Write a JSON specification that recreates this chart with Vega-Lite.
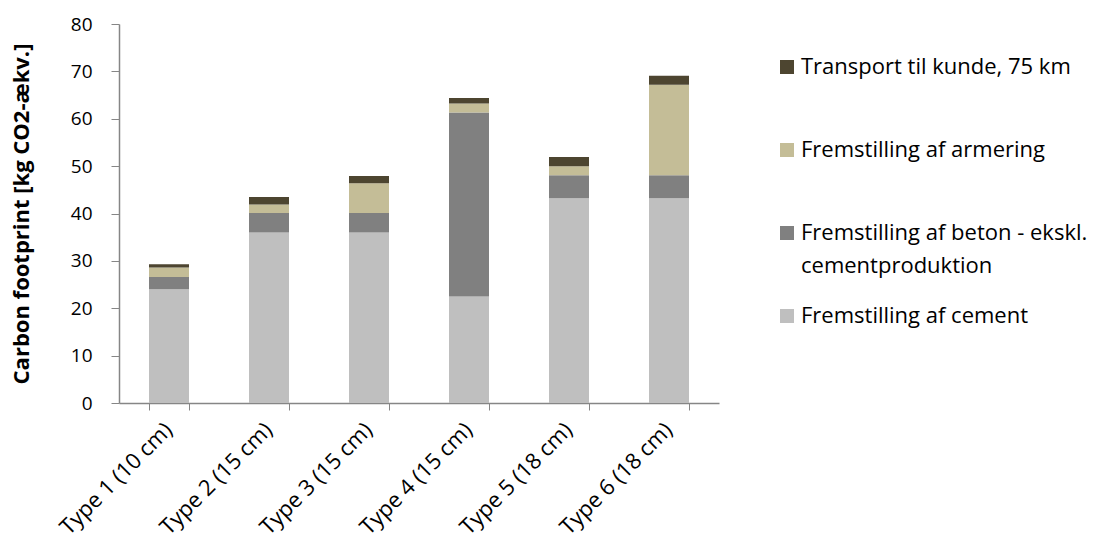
{
  "$schema": "https://vega.github.io/schema/vega-lite/v6.json",
  "autosize": "none",
  "padding": {"left": 119, "top": 24, "right": 384, "bottom": 141},
  "width": 600,
  "height": 379,
  "background": "white",
  "config": {
    "font": "Open Sans",
    "view": {"stroke": null},
    "axis": {"grid": false, "domainColor": "#868686", "tickColor": "#868686", "labelColor": "#000000", "titleColor": "#000000", "labelFont": "Open Sans", "titleFont": "Open Sans"}
  },
  "data": {
    "values": [
      {"type": "Type 1 (10 cm)", "component": "Fremstilling af cement", "value": 24.0, "ord": 1},
      {"type": "Type 1 (10 cm)", "component": "Fremstilling af beton - ekskl. cementproduktion", "value": 2.6, "ord": 2},
      {"type": "Type 1 (10 cm)", "component": "Fremstilling af armering", "value": 2.0, "ord": 3},
      {"type": "Type 1 (10 cm)", "component": "Transport til kunde, 75 km", "value": 0.7, "ord": 4},
      {"type": "Type 2 (15 cm)", "component": "Fremstilling af cement", "value": 36.0, "ord": 1},
      {"type": "Type 2 (15 cm)", "component": "Fremstilling af beton - ekskl. cementproduktion", "value": 4.1, "ord": 2},
      {"type": "Type 2 (15 cm)", "component": "Fremstilling af armering", "value": 1.8, "ord": 3},
      {"type": "Type 2 (15 cm)", "component": "Transport til kunde, 75 km", "value": 1.6, "ord": 4},
      {"type": "Type 3 (15 cm)", "component": "Fremstilling af cement", "value": 36.0, "ord": 1},
      {"type": "Type 3 (15 cm)", "component": "Fremstilling af beton - ekskl. cementproduktion", "value": 4.1, "ord": 2},
      {"type": "Type 3 (15 cm)", "component": "Fremstilling af armering", "value": 6.3, "ord": 3},
      {"type": "Type 3 (15 cm)", "component": "Transport til kunde, 75 km", "value": 1.5, "ord": 4},
      {"type": "Type 4 (15 cm)", "component": "Fremstilling af cement", "value": 22.5, "ord": 1},
      {"type": "Type 4 (15 cm)", "component": "Fremstilling af beton - ekskl. cementproduktion", "value": 38.8, "ord": 2},
      {"type": "Type 4 (15 cm)", "component": "Fremstilling af armering", "value": 1.9, "ord": 3},
      {"type": "Type 4 (15 cm)", "component": "Transport til kunde, 75 km", "value": 1.2, "ord": 4},
      {"type": "Type 5 (18 cm)", "component": "Fremstilling af cement", "value": 43.2, "ord": 1},
      {"type": "Type 5 (18 cm)", "component": "Fremstilling af beton - ekskl. cementproduktion", "value": 4.9, "ord": 2},
      {"type": "Type 5 (18 cm)", "component": "Fremstilling af armering", "value": 1.9, "ord": 3},
      {"type": "Type 5 (18 cm)", "component": "Transport til kunde, 75 km", "value": 1.9, "ord": 4},
      {"type": "Type 6 (18 cm)", "component": "Fremstilling af cement", "value": 43.2, "ord": 1},
      {"type": "Type 6 (18 cm)", "component": "Fremstilling af beton - ekskl. cementproduktion", "value": 4.9, "ord": 2},
      {"type": "Type 6 (18 cm)", "component": "Fremstilling af armering", "value": 19.1, "ord": 3},
      {"type": "Type 6 (18 cm)", "component": "Transport til kunde, 75 km", "value": 1.9, "ord": 4}
    ]
  },
  "mark": {"type": "bar"},
  "encoding": {
    "x": {
      "field": "type", "type": "nominal", "title": null,
      "scale": {"paddingInner": 0.6, "paddingOuter": 0.3},
      "axis": {"labelAngle": -45, "labelFontSize": 22, "tickBand": "extent", "tickSize": 7, "labelPadding": 9, "labelOffset": -8, "domainWidth": 1.5}
    },
    "y": {
      "field": "value", "type": "quantitative", "stack": "zero",
      "title": "Carbon footprint [kg CO2-ækv.]",
      "scale": {"domain": [0, 80], "nice": false},
      "axis": {"values": [0, 10, 20, 30, 40, 50, 60, 70, 80], "labelFontSize": 19, "tickSize": 8, "labelPadding": 19, "titleFontSize": 22, "titleFontWeight": "bold", "titlePadding": 37, "domainWidth": 1.5}
    },
    "color": {
      "field": "component", "type": "nominal",
      "scale": {
        "domain": ["Transport til kunde, 75 km", "Fremstilling af armering", "Fremstilling af beton - ekskl. cementproduktion", "Fremstilling af cement"],
        "range": ["#4d4530", "#c4bd97", "#808080", "#bfbfbf"]
      },
      "legend": {
        "title": null, "orient": "none", "legendX": 657, "legendY": 32,
        "symbolType": "square", "symbolSize": 196, "symbolStrokeWidth": 0,
        "labelFontSize": 22, "labelColor": "#000000", "labelLimit": 400, "labelOffset": 3,
        "rowPadding": 28, "gridAlign": "all",
        "labelExpr": "datum.label == 'Fremstilling af beton - ekskl. cementproduktion' ? ['Fremstilling af beton - ekskl.', 'cementproduktion'] : datum.label",
        "encode": {"labels": {"update": {"lineHeight": {"value": 33}}}}
      }
    },
    "order": {"field": "ord", "type": "quantitative"}
  }
}
